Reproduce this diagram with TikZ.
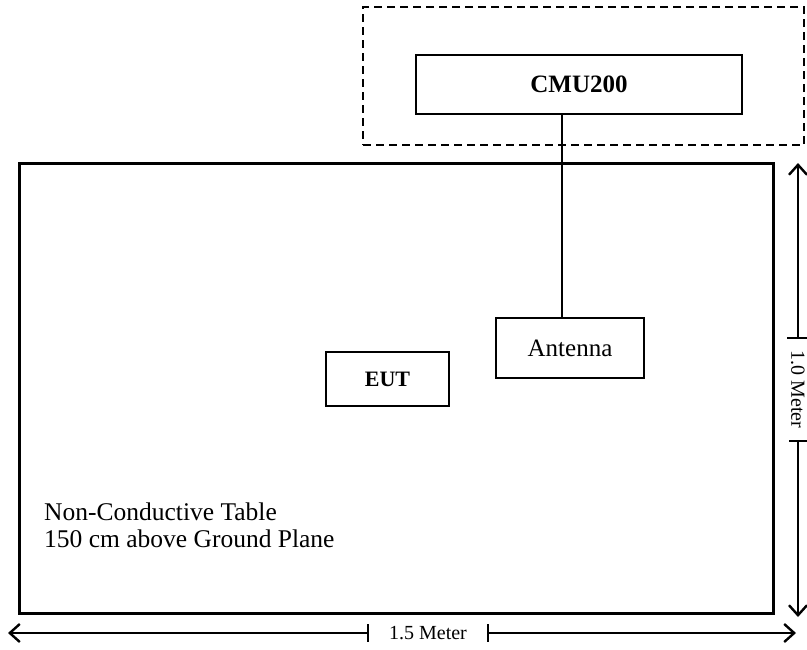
\documentclass[tikz,border=0pt]{standalone}
\usepackage{fontspec}
\setmainfont{Liberation Serif}
\usetikzlibrary{calc,positioning,arrows.meta}

\tikzset{
  unit/.style={draw, line width=1.6pt, inner sep=0pt, outer sep=0pt},
  dimtip/.style={line width=1.3pt, -{Straight Barb[length=10pt,width=18pt,line width=2.4pt]}},
  tick/.style={line width=1.3pt},
}

\begin{document}
\begin{tikzpicture}[x=1pt,y=-1pt]
	\useasboundingbox (0,0) rectangle (807,649);
	% test site
	\node(table) [unit, line width=3pt, minimum width=754pt, minimum height=450pt] at (396,388) {};
	\node(note) [anchor=base west, align=left, font=\fontsize{25.5}{27}\selectfont, inner sep=0pt] at (44,547) {Non-Conductive Table\\150 cm above Ground Plane};
	% equipment
	\node(frame) [unit, dashed, dash pattern=on 8pt off 5pt, minimum width=441pt, minimum height=138pt] at (583.5,76) {};
	\node(cmu) [unit, minimum width=326pt, minimum height=59pt, font=\fontsize{25}{30}\selectfont\bfseries] at (579,84.5) {CMU200};
	\node(ant) [unit, minimum width=148pt, minimum height=60pt, font=\fontsize{25}{30}\selectfont] at (570,348) {Antenna};
	\node(eut) [unit, minimum width=123pt, minimum height=54pt, font=\fontsize{22}{26}\selectfont\bfseries] at (387.5,379) {EUT};
	\coordinate(feed) at ($(ant.north west)+(66,0)$);
	\draw [line width=1.3pt] (feed) -- (feed |- cmu.south);
	% dimensions
	\coordinate(h1) at (8,633);
	\coordinate(h2) at (796,633);
	\coordinate(hl) at (368,633);
	\coordinate(hr) at (488,633);
	\node(hlab) [font=\fontsize{20}{24}\selectfont, inner sep=0pt] at ($(hl)!0.5!(hr)$) {1.5 Meter};
	\draw [dimtip] (hl) -- (h1);
	\draw [dimtip] (hr) -- (h2);
	\draw [tick] ($(hl)+(0,-9)$) -- ($(hl)+(0,9)$);
	\draw [tick] ($(hr)+(0,-9)$) -- ($(hr)+(0,9)$);
	\coordinate(v1) at (798,163);
	\coordinate(v2) at (798,617);
	\coordinate(vt) at (798,338);
	\coordinate(vb) at (798,441);
	\node(vlab) [font=\fontsize{20}{24}\selectfont, inner sep=0pt, rotate=-90] at ($(vt)!0.5!(vb)$) {1.0 Meter};
	\draw [dimtip] (vt) -- (v1);
	\draw [dimtip] (vb) -- (v2);
	\draw [tick] ($(vt)+(-11,0)$) -- ($(vt)+(9,0)$);
	\draw [tick] ($(vb)+(-9,0)$) -- ($(vb)+(9,0)$);
\end{tikzpicture}
\end{document}
